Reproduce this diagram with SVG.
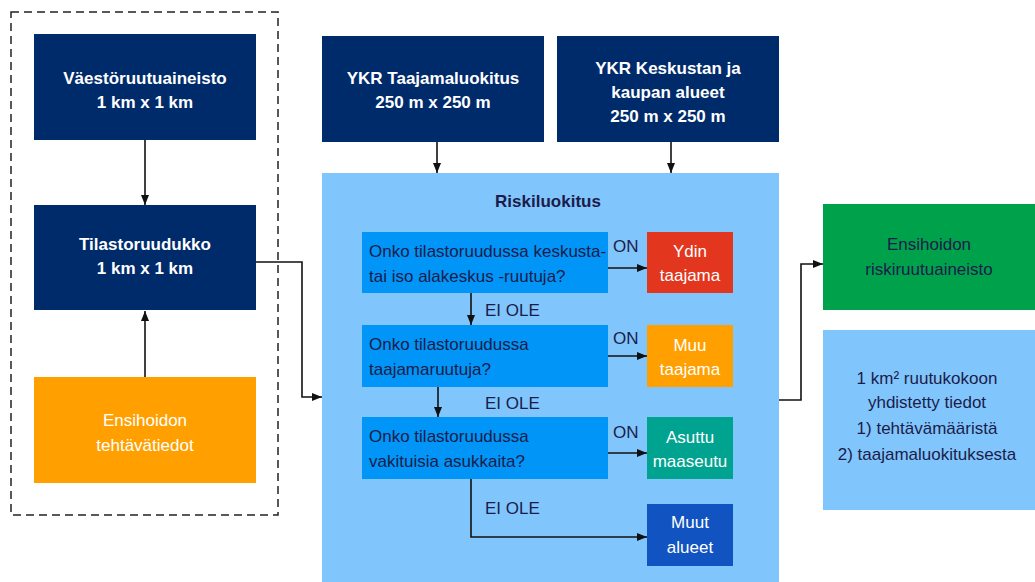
<svg xmlns="http://www.w3.org/2000/svg" width="1035" height="582" viewBox="0 0 1035 582">
  <defs>
    <marker id="arr" markerWidth="10" markerHeight="8" refX="10" refY="4" orient="auto" markerUnits="userSpaceOnUse">
      <path d="M0,0 L10,4 L0,8 Z" fill="#111"/>
    </marker>
    <style>
      text { font-family: "Liberation Sans Narrow", "Liberation Sans", sans-serif; font-size: 17px; }
      .w { fill: #ffffff; text-anchor: middle; }
      .d { fill: #1c1c4a; }
      .dc { fill: #1c1c4a; text-anchor: middle; }
      .b { font-weight: bold; }
      .navy { fill: #002b6b; }
      .q { fill: #0095f7; }
      .edge { fill: none; stroke: #111; stroke-width: 1.6; marker-end: url(#arr); }
      .plain { fill: none; stroke: #111; stroke-width: 1.6; }
    </style>
  </defs>

  <rect width="1035" height="582" fill="#ffffff"/>

  <!-- input data group frame -->
  <rect x="11" y="12" width="267" height="503" fill="none" stroke="#222" stroke-width="1.5" stroke-dasharray="8,5"/>

  <g id="vaestoruutu">
    <rect class="navy" x="34" y="34" width="222" height="106"/>
    <text class="w b" x="145" y="84">Väestöruutuaineisto</text>
    <text class="w b" x="145" y="108">1 km x 1 km</text>
  </g>

  <g id="tilastoruudukko">
    <rect class="navy" x="34" y="205" width="222" height="105"/>
    <text class="w b" x="145" y="250">Tilastoruudukko</text>
    <text class="w b" x="145" y="274">1 km x 1 km</text>
  </g>

  <g id="tehtavatiedot">
    <rect fill="#ff9f00" x="34" y="377" width="222" height="106"/>
    <text class="w" x="145" y="426">Ensihoidon</text>
    <text class="w" x="145" y="451">tehtävätiedot</text>
  </g>

  <g id="ykr-taajama">
    <rect class="navy" x="322" y="36" width="222" height="106"/>
    <text class="w b" x="433" y="84">YKR Taajamaluokitus</text>
    <text class="w b" x="433" y="108">250 m x 250 m</text>
  </g>

  <g id="ykr-keskusta">
    <rect class="navy" x="557" y="36" width="222" height="106"/>
    <text class="w b" x="668" y="74">YKR Keskustan ja</text>
    <text class="w b" x="668" y="98">kaupan alueet</text>
    <text class="w b" x="668" y="122">250 m x 250 m</text>
  </g>

  <g id="riskiluokitus">
    <rect fill="#80c6fd" x="322" y="173" width="457" height="409"/>
    <text class="dc b" x="548" y="207" font-size="19">Riskiluokitus</text>

    <g id="kysymys1">
      <rect class="q" x="362" y="232" width="246" height="61"/>
      <text class="d" x="369" y="257">Onko tilastoruudussa keskusta-</text>
      <text class="d" x="369" y="282">tai iso alakeskus -ruutuja?</text>
    </g>
    <g id="kysymys2">
      <rect class="q" x="362" y="325" width="246" height="62"/>
      <text class="d" x="369" y="350">Onko tilastoruudussa</text>
      <text class="d" x="369" y="375">taajamaruutuja?</text>
    </g>
    <g id="kysymys3">
      <rect class="q" x="362" y="417" width="246" height="62"/>
      <text class="d" x="369" y="442">Onko tilastoruudussa</text>
      <text class="d" x="369" y="467">vakituisia asukkaita?</text>
    </g>

    <g id="ydin-taajama">
      <rect fill="#e2361f" x="647" y="232" width="86" height="61"/>
      <text class="w" x="690" y="257">Ydin</text>
      <text class="w" x="690" y="281">taajama</text>
    </g>
    <g id="muu-taajama">
      <rect fill="#ff9f00" x="647" y="325" width="86" height="62"/>
      <text class="w" x="690" y="351">Muu</text>
      <text class="w" x="690" y="375">taajama</text>
    </g>
    <g id="asuttu-maaseutu">
      <rect fill="#00a390" x="647" y="417" width="86" height="62"/>
      <text class="w" x="690" y="443">Asuttu</text>
      <text class="w" x="690" y="467">maaseutu</text>
    </g>
    <g id="muut-alueet">
      <rect fill="#1153c0" x="647" y="504" width="86" height="62"/>
      <text class="w" x="690" y="528">Muut</text>
      <text class="w" x="690" y="553">alueet</text>
    </g>
  </g>

  <g id="riskiruutuaineisto">
    <rect fill="#00a14b" x="823" y="204" width="212" height="106"/>
    <text class="dc" x="929" y="250">Ensihoidon</text>
    <text class="dc" x="929" y="275">riskiruutuaineisto</text>
  </g>

  <g id="yhdistetty">
    <rect fill="#80c6fd" x="823" y="330" width="212" height="180"/>
    <text class="dc" x="927" y="384">1 km² ruutukokoon</text>
    <text class="dc" x="927" y="408">yhdistetty tiedot</text>
    <text class="dc" x="927" y="434">1) tehtävämääristä</text>
    <text class="dc" x="927" y="460">2) taajamaluokituksesta</text>
  </g>

  <g id="connectors">
    <line class="edge" x1="145" y1="140" x2="145" y2="205"/>
    <line class="edge" x1="145" y1="377" x2="145" y2="311"/>
    <polyline class="edge" points="256,262 302,262 302,397 322,397"/>
    <line class="edge" x1="437" y1="142" x2="437" y2="173"/>
    <line class="edge" x1="671" y1="142" x2="671" y2="173"/>
    <line class="edge" x1="608" y1="268" x2="647" y2="268"/>
    <line class="edge" x1="608" y1="356" x2="647" y2="356"/>
    <line class="edge" x1="608" y1="453" x2="647" y2="453"/>
    <line class="edge" x1="471" y1="293" x2="471" y2="325"/>
    <line class="edge" x1="438" y1="387" x2="438" y2="417"/>
    <polyline class="edge" points="471,479 471,537 647,537"/>
    <polyline class="edge" points="779,400 801,400 801,264 823,264"/>
    <text class="d" x="613" y="252">ON</text>
    <text class="d" x="613" y="344">ON</text>
    <text class="d" x="613" y="438">ON</text>
    <text class="d" x="485" y="316">EI OLE</text>
    <text class="d" x="485" y="409">EI OLE</text>
    <text class="d" x="485" y="514">EI OLE</text>
  </g>
</svg>
